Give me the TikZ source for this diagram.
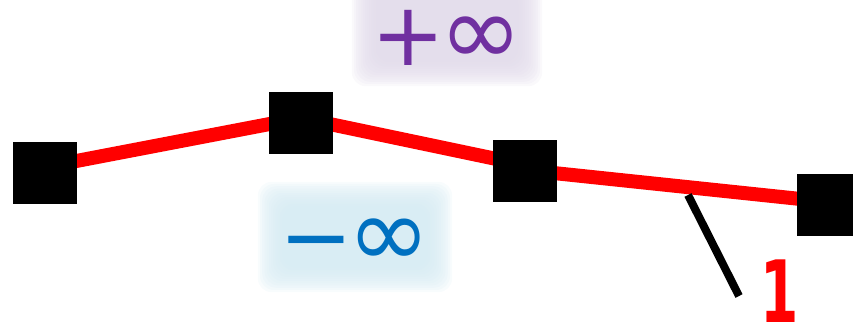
\documentclass[tikz,border=0pt]{standalone}
\usepackage{fontspec}
\newfontfamily\dejavu{DejaVu Sans}
\usetikzlibrary{backgrounds}
\definecolor{pinfc}{HTML}{7030A0}
\definecolor{ninfc}{HTML}{0070C0}
\definecolor{pbg}{HTML}{E0D9E9}
\definecolor{nbg}{HTML}{D4EAF2}
\begin{document}
\begin{tikzpicture}[x=1pt,y=-1pt,
  sq/.style={fill=black, draw=none, minimum width=64pt, minimum height=62pt, inner sep=0pt},
  seg/.style={draw=red, line width=14pt},
  tickline/.style={draw=black, line width=8pt},
  inflabel/.style={font=\dejavu\fontsize{88}{88}\selectfont, inner sep=0pt},
  onelabel/.style={font=\dejavu\bfseries\fontsize{86}{86}\selectfont, text=red, inner sep=0pt, xscale=0.64}
]
\useasboundingbox (0,0) rectangle (853,328);
% soft glows
\foreach \i in {0,...,11}{
  \fill[pbg, opacity=0.16, rounded corners=14pt] (376-2.2*\i,-10-2.2*\i) rectangle (518+2.2*\i,62+2.2*\i);
  \fill[nbg, opacity=0.16, rounded corners=14pt] (282-2.2*\i,206-2.2*\i) rectangle (428+2.2*\i,268+2.2*\i);
}
% boxes
\node[sq] (s1) at (45,173) {};
\node[sq] (s2) at (301,123) {};
\node[sq] (s3) at (525,171) {};
\node[sq] (s4) at (829,205) {};
\begin{pgfonlayer}{background}
\draw[seg] ([yshift=6pt]s1.center) -- ([yshift=5pt]s2.center);
\draw[seg] ([yshift=5pt]s2.center) -- ([yshift=6pt]s3.center);
\draw[seg] ([yshift=1pt]s3.center) -- ([yshift=3pt]s4.center);
\end{pgfonlayer}
% tick and label
\coordinate (t0) at (688,195);
\coordinate (t1) at (739,296);
\draw[tickline] (t0) -- (t1);
\node[onelabel, anchor=base] (one) at (780,323) {1};
\node[inflabel, text=pinfc] (pinf) at (447,38) {+\kern-6pt{\fontsize{100}{100}\selectfont ∞}};
\node[inflabel, text=ninfc] (ninf) at (355,243) {−\kern-6pt{\fontsize{100}{100}\selectfont ∞}};
\end{tikzpicture}
\end{document}
